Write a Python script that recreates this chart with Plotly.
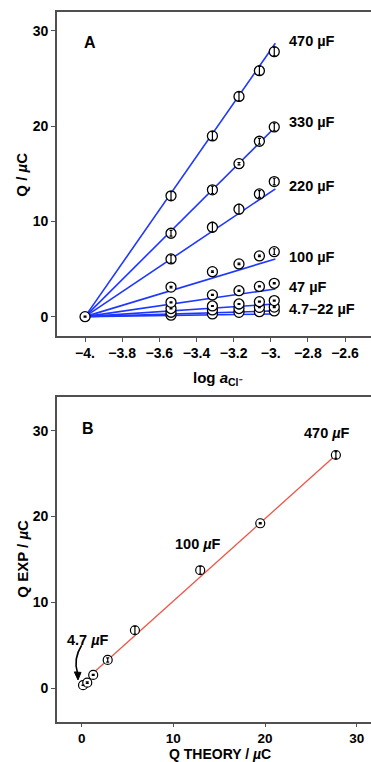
import plotly.graph_objects as go

# ---------------- data: panel A ----------------
log_a = [-3.537, -3.314, -3.171, -3.061, -2.981]
start_log_a = -4.0
start_q = 0.0
capacitances = ["470", "330", "220", "100", "47", "22", "10", "4.7"]
q_470 = [12.67, 18.96, 23.10, 25.80, 27.80]
q_330 = [8.75, 13.30, 16.05, 18.40, 19.90]
q_220 = [6.05, 9.38, 11.27, 12.87, 14.17]
q_100 = [3.10, 4.72, 5.53, 6.37, 6.82]
q_47 = [1.50, 2.28, 2.72, 3.17, 3.50]
q_22 = [0.85, 1.12, 1.33, 1.57, 1.68]
q_10 = [0.46, 0.70, 0.85, 0.98, 1.00]
q_4p7 = [0.15, 0.28, 0.45, 0.52, 0.60]
err_470 = [0.45, 0.45, 0.45, 0.45, 0.45]
err_330 = [0.30, 0.40, 0.12, 0.30, 0.40]
err_220 = [0.40, 0.50, 0.50, 0.35, 0.35]
err_100 = [0.08, 0.08, 0.08, 0.08, 0.30]
err_47 = [0.06, 0.06, 0.06, 0.06, 0.06]
err_22 = [0.05, 0.05, 0.05, 0.05, 0.05]
err_10 = [0.05, 0.05, 0.05, 0.05, 0.05]
err_4p7 = [0.05, 0.05, 0.05, 0.05, 0.05]
fit_end_log_a = -2.975
fit_end_q = [28.68, 19.90, 13.40, 6.05, 2.90, 1.33, 0.60, 0.28]
labels_a = ["470 µF", "330 µF", "220 µF", "100 µF", "47 µF", "4.7–22 µF"]
xticks_a = [-4.0, -3.8, -3.6, -3.4, -3.2, -3.0, -2.8, -2.6]
xticklabels_a = ["−4.", "−3.8", "−3.6", "−3.4", "−3.2", "−3.", "−2.8", "−2.6"]
yticks = [0, 10, 20, 30]

# ---------------- data: panel B ----------------
q_theory = [0.15, 0.61, 1.26, 2.84, 5.81, 12.93, 19.48, 27.73]
q_exp = [0.35, 0.65, 1.55, 3.29, 6.75, 13.74, 19.21, 27.16]
err_b = [0.02, 0.08, 0.06, 0.25, 0.45, 0.45, 0.08, 0.40]
fit_b_x = [1.5, 27.73]
fit_b_y = [2.0, 27.16]
xticks_b = [0, 10, 20, 30]

series_a = [q_470, q_330, q_220, q_100, q_47, q_22, q_10, q_4p7]
errors_a = [err_470, err_330, err_220, err_100, err_47, err_22, err_10, err_4p7]

W, H = 371, 762
FONT = "Liberation Sans, Arial, Helvetica, sans-serif"
BLUE = "rgb(30,55,255)"
RED = "rgb(240,85,70)"
AXC = "#505050"

fig = go.Figure()

# Panel A fit lines
for q_end in fit_end_q:
    fig.add_trace(go.Scatter(x=[start_log_a, fit_end_log_a], y=[start_q, q_end],
                             mode="lines", line=dict(color=BLUE, width=1.6),
                             xaxis="x", yaxis="y", showlegend=False, hoverinfo="skip"))

marker_style = dict(symbol="circle", size=10, color="white",
                    line=dict(color="black", width=1.3))

# Panel A points (smallest first so big ones sit on top)
for ys, es in reversed(list(zip(series_a, errors_a))):
    fig.add_trace(go.Scatter(x=log_a, y=ys, mode="markers", marker=marker_style,
                             xaxis="x", yaxis="y", showlegend=False))
    fig.add_trace(go.Scatter(x=log_a, y=ys, mode="markers",
                             marker=dict(size=1, color="rgba(0,0,0,0)"),
                             error_y=dict(type="data", array=es, color="black",
                                          thickness=1.2, width=1.5),
                             xaxis="x", yaxis="y", showlegend=False))
fig.add_trace(go.Scatter(x=[start_log_a], y=[start_q], mode="markers", marker=marker_style,
                         xaxis="x", yaxis="y", showlegend=False))
fig.add_trace(go.Scatter(x=[start_log_a], y=[start_q], mode="markers",
                         marker=dict(size=1, color="rgba(0,0,0,0)"),
                         error_y=dict(type="data", array=[0.05], color="black",
                                      thickness=1.2, width=1.5),
                         xaxis="x", yaxis="y", showlegend=False))

# Panel B
fig.add_trace(go.Scatter(x=fit_b_x, y=fit_b_y, mode="lines",
                         line=dict(color=RED, width=1.3),
                         xaxis="x2", yaxis="y2", showlegend=False))
fig.add_trace(go.Scatter(x=q_theory, y=q_exp, mode="markers",
                         marker=dict(symbol="circle", size=9, color="white",
                                     line=dict(color="black", width=1.2)),
                         xaxis="x2", yaxis="y2", showlegend=False))
fig.add_trace(go.Scatter(x=q_theory, y=q_exp, mode="markers",
                         marker=dict(size=1, color="rgba(0,0,0,0)"),
                         error_y=dict(type="data", array=err_b, color="black",
                                      thickness=1.2, width=1.5),
                         xaxis="x2", yaxis="y2", showlegend=False))

tickfont = dict(family=FONT, size=14, color="black", weight="bold")
common = dict(showgrid=False, zeroline=False, showline=True, linecolor=AXC, linewidth=1.6,
              ticks="outside", tickwidth=1, tickcolor=AXC, automargin=False)

x0 = 57 / W
fig.update_layout(
    width=W, height=H, margin=dict(l=0, r=0, t=0, b=0, pad=0),
    paper_bgcolor="white", plot_bgcolor="white",
    xaxis=dict(domain=[x0, 1], range=[-4.151, -2.46], anchor="y", mirror=True,
               tickvals=xticks_a, ticktext=xticklabels_a, ticklen=4, tickfont=tickfont, **common),
    yaxis=dict(domain=[(H - 335.7) / H, (H - 12) / H], range=[-2.0, 31.96], anchor="x",
               mirror=False, tickvals=yticks, ticklen=4, tickfont=tickfont, **common),
    xaxis2=dict(domain=[x0, 1], range=[-2.69, 31.56], anchor="y2", mirror=True,
                tickvals=xticks_b, ticklen=3,
                tickfont=dict(family=FONT, size=13.5, color="black", weight="bold"), **common),
    yaxis2=dict(domain=[(H - 721.7) / H, (H - 396.7) / H], range=[-3.9, 33.95], anchor="x2",
                mirror=False, tickvals=yticks, ticklen=4, tickfont=tickfont, **common),
)

ann = []
lab_font = dict(family=FONT, size=14.5, color="black", weight="bold")
label_y_a = [28.96, 20.4, 13.7, 6.3, 3.09, 0.78]
for txt, yy in zip(labels_a, label_y_a):
    ann.append(dict(x=-2.912, y=yy, xref="x", yref="y", text=txt, showarrow=False,
                    xanchor="left", yanchor="middle", font=lab_font))
ann.append(dict(x=-3.975, y=28.8, xref="x", yref="y", text="A", showarrow=False,
                xanchor="center", yanchor="middle",
                font=dict(family=FONT, size=16, color="black", weight="bold")))
ann.append(dict(x=0.72, y=30.27, xref="x2", yref="y2", text="B", showarrow=False,
                xanchor="center", yanchor="middle",
                font=dict(family=FONT, size=16, color="black", weight="bold")))
ann.append(dict(x=26.72, y=29.76, xref="x2", yref="y2", text="470 <i>µ</i>F", showarrow=False,
                xanchor="center", yanchor="middle", font=lab_font))
ann.append(dict(x=12.68, y=16.8, xref="x2", yref="y2", text="100 <i>µ</i>F", showarrow=False,
                xanchor="center", yanchor="middle", font=lab_font))
ann.append(dict(x=0.72, y=5.62, xref="x2", yref="y2", text="4.7 <i>µ</i>F", showarrow=False,
                xanchor="center", yanchor="middle", font=lab_font))

title_font = dict(family=FONT, size=15, color="black", weight="bold")
ann.append(dict(x=21.7 / W, y=(H - 175) / H, xref="paper", yref="paper",
                text="Q / <i>µ</i>C", textangle=-90, showarrow=False,
                xanchor="center", yanchor="middle", font=title_font))
ann.append(dict(x=218 / W, y=(H - 378) / H, xref="paper", yref="paper",
                text="log <i>a</i><sub>Cl⁻</sub>", showarrow=False,
                xanchor="center", yanchor="middle", font=title_font))
ann.append(dict(x=21.7 / W, y=(H - 559) / H, xref="paper", yref="paper",
                text="Q EXP / <i>µ</i>C", textangle=-90, showarrow=False,
                xanchor="center", yanchor="middle", font=title_font))
ann.append(dict(x=220 / W, y=(H - 753.5) / H, xref="paper", yref="paper",
                text="Q THEORY / <i>µ</i>C", showarrow=False, borderpad=0,
                xanchor="center", yanchor="middle",
                font=dict(family=FONT, size=14, color="black", weight="bold")))
fig.update_layout(annotations=ann)

# curved arrow body and head (panel B)
fig.add_shape(type="path", xref="x2", yref="y2",
              path="M 0.0,5.0 Q -0.95,3.4 -0.45,1.75",
              line=dict(color="black", width=1.6))
fig.add_shape(type="path", xref="x2", yref="y2",
              path="M -0.40,0.97 L -0.80,1.90 L -0.07,1.84 Z",
              line=dict(color="black", width=1), fillcolor="black")

fig.write_html("out.html", config={"displayModeBar": False})
